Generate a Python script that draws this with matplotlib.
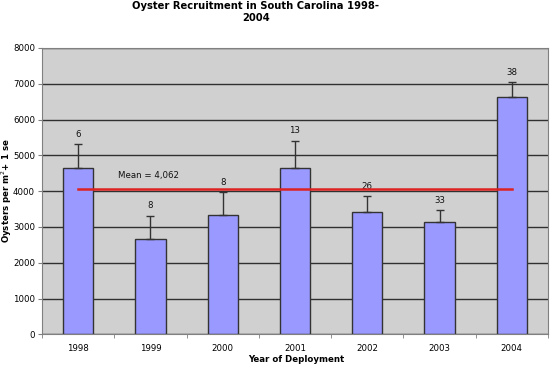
import matplotlib
matplotlib.use("Agg")
import matplotlib.pyplot as plt
import numpy as np

years = ["1998", "1999", "2000", "2001", "2002", "2003", "2004"]
means = [4637, 2654, 3324, 4645, 3416, 3145, 6637]
se_upper = [670, 651, 642, 763, 439, 319, 402]
counts = ["6", "8", "8", "13", "26", "33", "38"]
overall_mean = 4062
yticks = [0, 1000, 2000, 3000, 4000, 5000, 6000, 7000, 8000]

fs = 6.2
fig = plt.figure(figsize=(5.5, 3.65), dpi=100)
ax = fig.add_axes([42/550, 1 - 334.3/365, 506/550, 286.4/365])
ax.set_facecolor("#d0d0d0")

x = np.arange(len(years))
ax.set_axisbelow(True)
ax.yaxis.grid(True, color="#303030", linewidth=1)
ax.bar(x, means, width=0.42, color="#9999ff", edgecolor="#333333", linewidth=1, zorder=2)
ax.errorbar(x, means, yerr=[np.zeros(len(means)), se_upper], fmt="none",
            ecolor="#333333", elinewidth=1, capsize=3, capthick=1, zorder=3)
for xi, m, e, c in zip(x, means, se_upper, counts):
    ax.annotate(c, (xi, m + e), xytext=(0, 4), textcoords="offset points",
                ha="center", va="bottom", fontsize=fs, color="#111111")

ax.plot([x[0], x[-1]], [overall_mean, overall_mean], color="#dd2222", linewidth=1.8, zorder=4)
ax.text(0.55, 4430, "Mean = 4,062", fontsize=fs, ha="left", va="center", color="#111111")

ax.set_xlim(-0.5, len(years) - 0.5)
ax.set_ylim(0, 8000)
ax.set_yticks(yticks)
ax.set_yticklabels([str(t) for t in yticks], fontsize=fs)
ax.set_xticks(x)
ax.set_xticklabels(years, fontsize=fs)
ax.set_xticks(np.arange(len(years) + 1) - 0.5, minor=True)
ax.tick_params(axis="x", which="major", length=0, pad=7)
ax.tick_params(axis="x", which="minor", length=3, color="#808080")
ax.tick_params(axis="y", length=3, color="#808080", pad=2)

for s in ["left", "bottom", "top", "right"]:
    ax.spines[s].set_color("#808080")

fig.text(296/550, 1 - 360/365, "Year of Deployment", ha="center", va="center",
         fontsize=fs, fontweight="bold")
fig.text(7/550, 1 - 191/365, "Oysters per m$^2$+ 1 se", ha="center", va="center",
         rotation=90, fontsize=fs, fontweight="bold")
fig.text(256/550, 1 - 1/365, "Oyster Recruitment in South Carolina 1998-\n2004",
         ha="center", va="top", fontsize=7.2, fontweight="bold", linespacing=1.25)

fig.savefig("out.png", dpi=100)
